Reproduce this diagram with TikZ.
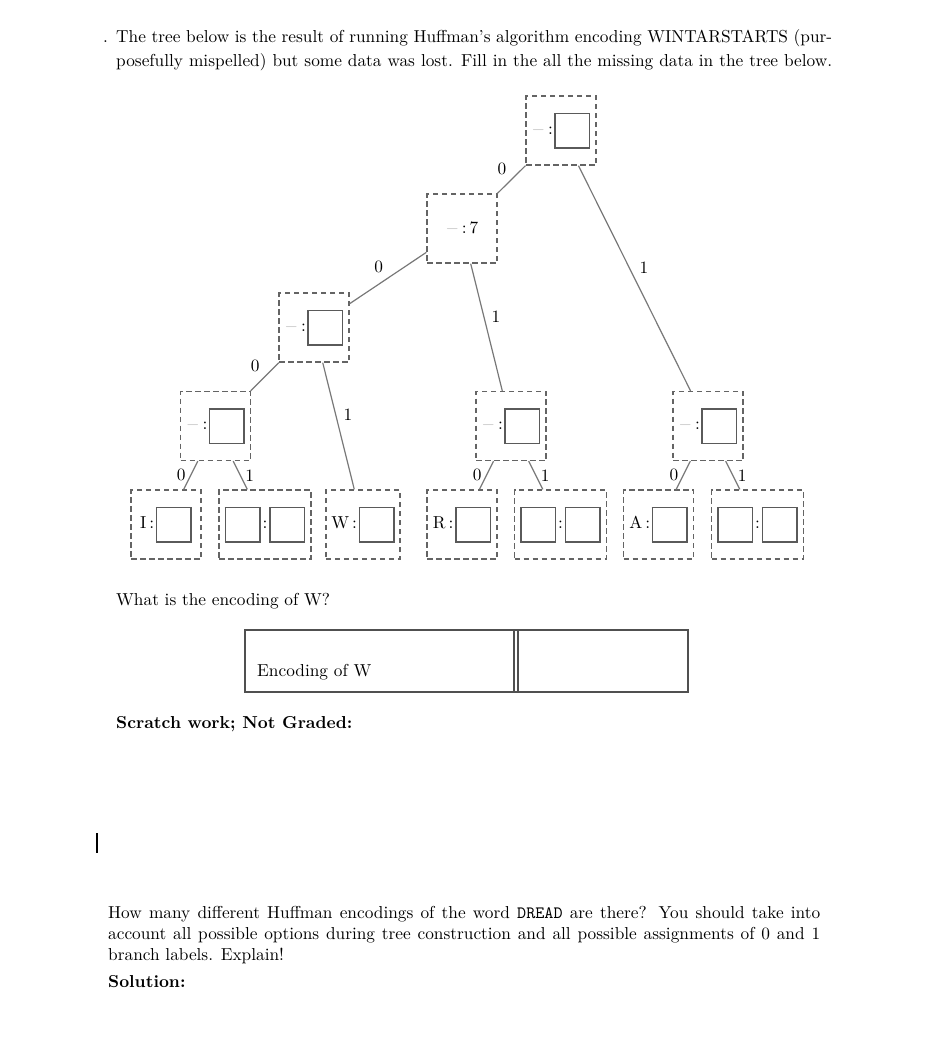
\documentclass[tikz,border=0pt]{standalone}
\usepackage{fontspec}
\setmainfont{lmroman10-regular.otf}[BoldFont=lmroman10-bold.otf, ItalicFont=lmroman10-italic.otf]
\setmonofont{lmmono10-regular.otf}
\definecolor{dashc}{RGB}{100,100,100}
\definecolor{edgec}{RGB}{120,120,120}
\definecolor{sqc}{RGB}{90,90,90}
\definecolor{dashtext}{RGB}{190,190,190}
\definecolor{tabc}{RGB}{80,80,80}
\newcommand{\sqbox}{\raisebox{-12.6pt}{\fboxsep=0pt\fboxrule=1.5pt\fcolorbox{sqc}{white}{\rule{0pt}{33pt}\hspace{33pt}}}}
\newcommand{\gdash}{\textcolor{dashtext}{$-$}}
\newcommand{\unk}{\gdash\hspace{3pt}:\hspace{1.5pt}\sqbox}
\newcommand{\leafl}[1]{#1\hspace{3pt}:\hspace{1.5pt}\sqbox}
\newcommand{\leafu}{\sqbox\hspace{2pt}:\hspace{2pt}\sqbox}
\begin{document}
\begin{tikzpicture}[x=1pt,y=-1pt,
  every node/.style={font=\fontsize{17.3}{21.5}\selectfont},
  tn/.style={draw=dashc, dash pattern=on 5.5pt off 3.5pt, line width=1.3pt,
     minimum width=70pt, minimum height=69pt, inner sep=5.5pt},
  edge/.style={draw=edgec, line width=1.2pt},
  eL/.style={midway, above left, inner sep=4.5pt},
  eR/.style={midway, above right, inner sep=4.5pt},
  lL/.style={midway, left, inner sep=4.5pt},
  lR/.style={midway, right, inner sep=4.5pt},
  txt/.style={anchor=base west, inner sep=0pt}
]
\useasboundingbox (0,0) rectangle (929,1050);

% header text
\node[txt] (dot) at (103,42) {.};
\node[txt] (t1) at (116,42) {\makebox[716pt][s]{The tree below is the result of running Huffman's algorithm encoding WINTARSTARTS (pur-}};
\node[txt] (t2) at (116,66) {\makebox[716pt][s]{posefully mispelled) but some data was lost. Fill in the all the missing data in the tree below.}};

% tree nodes
\node[tn] (root) at (561,130.5) {\unk};
\node[tn] (n7) at (462,228.5) {\gdash\,:\,7};
\node[tn] (L) at (314,327.5) {\unk};
\node[tn] (Ip) at (215.5,426) {\unk};
\node[tn] (Rp) at (511,426) {\unk};
\node[tn] (Ap) at (708,426) {\unk};
\node[tn] (lI) at (166,524.5) {\leafl{I}};
\node[tn] (lIx) at (265,524.5) {\leafu};
\node[tn] (lW) at (363,524.5) {\leafl{W}};
\node[tn] (lR) at (462,524.5) {\leafl{R}};
\node[tn] (lRx) at (560.5,524.5) {\leafu};
\node[tn] (lA) at (658.5,524.5) {\leafl{A}};
\node[tn] (lAx) at (757.5,524.5) {\leafu};

% edges
\draw[edge] (root) -- node[eL]{0} (n7);
\draw[edge] (root) -- node[eR]{1} (Ap);
\draw[edge] (n7) -- node[eL]{0} (L);
\draw[edge] (n7) -- node[eR]{1} (Rp);
\draw[edge] (L) -- node[eL]{0} (Ip);
\draw[edge] (L) -- node[eR]{1} (lW);
\draw[edge] (Ip) -- node[lL]{0} (lI);
\draw[edge] (Ip) -- node[lR]{1} (lIx);
\draw[edge] (Rp) -- node[lL]{0} (lR);
\draw[edge] (Rp) -- node[lR]{1} (lRx);
\draw[edge] (Ap) -- node[lL]{0} (lA);
\draw[edge] (Ap) -- node[lR]{1} (lAx);

% question
\node[txt] (q1) at (116,605) {What is the encoding of W?};
\draw[tabc, line width=1.3pt] (245,630) rectangle (688,692);
\draw[tabc, line width=1.1pt] (514,630) -- (514,692);
\draw[tabc, line width=1.1pt] (518,630) -- (518,692);
\node[txt] (enc) at (257,676) {Encoding of W};
\node[txt] (scr) at (116,728) {\bfseries Scratch work; Not Graded:};

% cursor bar
\draw[line width=1.8pt] (97,833) -- (97,853);

% second question
\node[txt] (b1) at (108,918) {\makebox[712pt][s]{How many different Huffman encodings of the word \texttt{DREAD} are there? You should take into}};
\node[txt] (b2) at (108,939) {\makebox[712pt][s]{account all possible options during tree construction and all possible assignments of 0 and 1}};
\node[txt] (b3) at (108,960) {branch labels. Explain!};
\node[txt] (sol) at (108,987) {\bfseries Solution:};
\end{tikzpicture}
\end{document}
